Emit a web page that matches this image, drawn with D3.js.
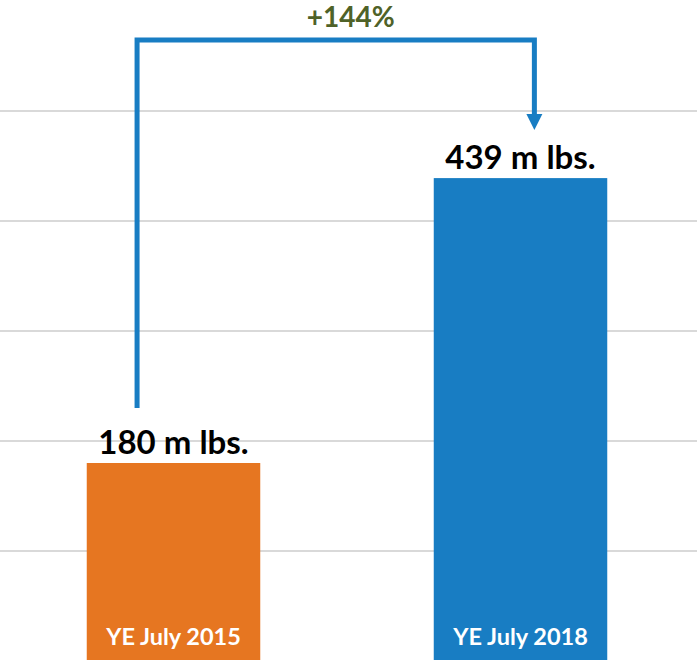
<!DOCTYPE html>
<html>
<head>
<meta charset="utf-8">
<script src="https://cdn.jsdelivr.net/npm/d3@7"></script>
<style>
  html, body { margin: 0; padding: 0; background: #fff; }
  svg { display: block; }
</style>
</head>
<body>
<svg id="svg" width="697" height="660"></svg>
<script>
// DATA
var categories = ["YE July 2015", "YE July 2018"];
var values = [180, 439];
var valueLabels = ["180 m lbs.", "439 m lbs."];
var gridTicks = [100, 200, 300, 400, 500];
var barColors = ["#E67621", "#187DC3"];

var svg = d3.select("#svg"),
  width = 697,
  height = 660;

var x = d3.scaleBand()
  .domain(categories)
  .range([0, 694])
  .paddingInner(0.5)
  .paddingOuter(0.25);

var y = d3.scaleLinear()
  .domain([0, 600])
  .range([661, 1]);

// gridlines
svg.append("g")
  .attr("class", "grid")
  .selectAll("line")
  .data(gridTicks)
  .enter().append("line")
  .attr("x1", 0)
  .attr("x2", width)
  .attr("y1", function(d) { return y(d); })
  .attr("y2", function(d) { return y(d); })
  .attr("stroke", "#D9D9D9")
  .attr("stroke-width", 2);

// bars
svg.selectAll(".bar")
  .data(values)
  .enter().append("rect")
  .attr("class", "bar")
  .attr("x", function(d, i) { return x(categories[i]); })
  .attr("y", function(d) { return y(d); })
  .attr("width", x.bandwidth())
  .attr("height", function(d) { return y(0) - y(d); })
  .attr("fill", function(d, i) { return barColors[i]; });

// value labels
svg.selectAll(".val")
  .data(values)
  .enter().append("text")
  .attr("class", "val")
  .attr("x", function(d, i) { return x(categories[i]) + x.bandwidth() / 2; })
  .attr("y", function(d) { return y(d) - 9; })
  .attr("text-anchor", "middle")
  .style("font-family", "Lato, 'Open Sans', sans-serif")
  .style("font-weight", "bold")
  .style("font-size", "33px")
  .style("fill", "#000")
  .text(function(d, i) { return valueLabels[i]; });

// category labels inside the bars
svg.selectAll(".cat")
  .data(categories)
  .enter().append("text")
  .attr("class", "cat")
  .attr("x", function(d) { return x(d) + x.bandwidth() / 2; })
  .attr("y", 645)
  .attr("text-anchor", "middle")
  .style("font-family", "Lato, 'Open Sans', sans-serif")
  .style("font-weight", "bold")
  .style("font-size", "23.5px")
  .style("fill", "#fff")
  .text(function(d) { return d; });

// growth bracket with arrow
var bw = x.bandwidth();
var lx = x(categories[0]) + bw * 0.29,
  rx = x(categories[1]) + bw * 0.58,
  topY = 40,
  startY = y(values[0]) - 55,
  tipY = y(values[1]) - 48;

svg.append("path")
  .attr("d", "M" + lx + "," + startY + "V" + topY + "H" + rx + "V" + (tipY - 14))
  .attr("fill", "none")
  .attr("stroke", "#187DC3")
  .attr("stroke-width", 5);

svg.append("path")
  .attr("d", "M" + (rx - 8) + "," + (tipY - 16) + "L" + (rx + 8) + "," + (tipY - 16) + "L" + rx + "," + tipY + "Z")
  .attr("fill", "#187DC3");

var pct = Math.round((values[1] - values[0]) / values[0] * 100);
svg.append("text")
  .attr("x", (lx + rx) / 2 + 15)
  .attr("y", 27)
  .attr("text-anchor", "middle")
  .style("font-family", "Lato, 'Open Sans', sans-serif")
  .style("font-weight", "bold")
  .style("font-size", "28px")
  .style("fill", "#4F6228")
  .text("+" + pct + "%");
</script>
</body>
</html>
